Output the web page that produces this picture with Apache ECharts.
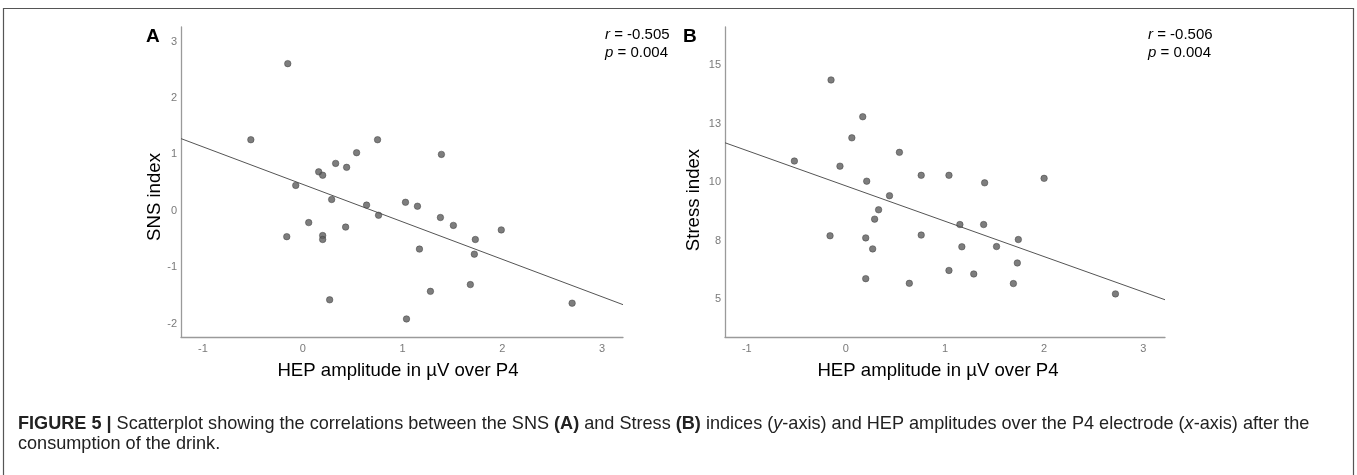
<!DOCTYPE html>
<html><head><meta charset="utf-8">
<script src="https://cdn.jsdelivr.net/npm/echarts@6/dist/echarts.min.js"></script>
<style>html,body{margin:0;padding:0;background:#fff}#c{width:1357px;height:475px}</style>
</head><body><div id="c"></div>
<script>
// Panel A: SNS index vs HEP amplitude
const snsX = [-0.15,-0.52,0.75,0.54,1.39,0.33,0.44,0.16,0.20,-0.07,0.29,0.64,0.76,1.03,1.15,1.38,1.51,1.99,1.73,1.72,0.06,0.43,-0.16,0.20,0.20,1.17,1.68,1.28,0.27,1.04,2.70];
const snsY = [2.61,1.26,1.26,1.03,1.00,0.84,0.77,0.69,0.63,0.45,0.20,0.10,-0.08,0.15,0.08,-0.12,-0.26,-0.34,-0.51,-0.77,-0.21,-0.29,-0.46,-0.44,-0.51,-0.68,-1.31,-1.43,-1.58,-1.92,-1.64];
// Panel B: Stress index vs HEP amplitude
const stressX = [-0.15,0.17,0.06,0.54,-0.52,-0.06,0.76,1.04,2.00,1.40,0.21,0.44,0.33,0.29,1.15,1.39,-0.16,0.20,0.76,0.27,1.17,1.52,1.74,1.73,1.04,1.29,0.20,0.64,1.69,2.72];
const stressY = [14.36,12.79,11.89,11.27,10.90,10.68,10.29,10.29,10.16,9.97,10.04,9.42,8.82,8.42,8.19,8.19,7.71,7.62,7.74,7.15,7.24,7.25,7.55,6.55,6.23,6.08,5.88,5.68,5.67,5.23];
// Fit lines (endpoints)
const snsFit = [[-1.22,1.28],[3.21,-1.666]];
const stressFit = [[-1.22,11.68],[3.22,4.98]];
// Tick values / labels
const xTicks = [-1,0,1,2,3];
const snsTicks = [-2,-1,0,1,2,3];
const stressTicks = [5,7.5,10,12.5,15];
const stressTickLabels = ['5','8','10','13','15'];
const statsA = ['r = -0.505','p = 0.004'];
const statsB = ['r = -0.506','p = 0.004'];

const zip = (a,b) => a.map((v,i)=>[v,b[i]]);
const FONT = '"Liberation Sans", Arial, sans-serif';
const axisCol = '#9a9a9a';
const labelStyle = {color:'#7a7a7a', fontSize:11, fontFamily:FONT};

function xAxis(gi, min, max){
  return {type:'value', gridIndex:gi, min:min, max:max,
    axisLine:{show:true, onZero:false, lineStyle:{color:axisCol, width:1.3}},
    axisTick:{show:false}, splitLine:{show:false},
    axisLabel:Object.assign({customValues:xTicks, margin:6}, labelStyle)};
}
function yAxis(gi, min, max, ticks, fmt){
  return {type:'value', gridIndex:gi, min:min, max:max,
    axisLine:{show:true, onZero:false, lineStyle:{color:axisCol, width:1.3}},
    axisTick:{show:false}, splitLine:{show:false},
    axisLabel:Object.assign({customValues:ticks, margin:4, formatter:fmt}, labelStyle)};
}
const pointStyle = {color:'#5c5c5c', borderColor:'#3a3a3a', borderWidth:0.6};
const capFont = 18.1;

const chart = echarts.init(document.getElementById('c'), null, {renderer:'canvas'});
chart.setOption({
  backgroundColor:'#fff',
  animation:false,
  grid:[
    {left:181, top:27, width:442, height:310},
    {left:725, top:27, width:440, height:310}
  ],
  xAxis:[xAxis(0,-1.22,3.21), xAxis(1,-1.22,3.22)],
  yAxis:[
    yAxis(0,-2.24,3.26,snsTicks, v=>String(v)),
    yAxis(1,3.39,16.62,stressTicks, v=>stressTickLabels[stressTicks.indexOf(v)] ?? String(Math.round(v)))
  ],
  series:[
    {type:'scatter', xAxisIndex:0, yAxisIndex:0, data:zip(snsX,snsY), symbolSize:6.5, itemStyle:pointStyle, z:3},
    {type:'line', xAxisIndex:0, yAxisIndex:0, data:snsFit, symbol:'none', lineStyle:{color:'#555', width:1}, z:2, silent:true},
    {type:'scatter', xAxisIndex:1, yAxisIndex:1, data:zip(stressX,stressY), symbolSize:6.5, itemStyle:pointStyle, z:3},
    {type:'line', xAxisIndex:1, yAxisIndex:1, data:stressFit, symbol:'none', lineStyle:{color:'#555', width:1}, z:2, silent:true}
  ],
  graphic:[
    {type:'polyline', shape:{points:[[3.5,475],[3.5,8.5],[1353.5,8.5],[1353.5,475]]}, style:{stroke:'#555', lineWidth:1.2, fill:null}},
    {type:'text', x:146, y:36.5, style:{text:'A', font:'bold 19px '+FONT, fill:'#000', verticalAlign:'middle'}},
    {type:'text', x:683, y:36.5, style:{text:'B', font:'bold 19px '+FONT, fill:'#000', verticalAlign:'middle'}},
    {type:'text', x:605, y:35, style:{text:'{i|r} = ' + statsA[0].slice(4), rich:{i:{font:'italic 15px '+FONT}}, font:'15px '+FONT, fill:'#000', verticalAlign:'middle'}},
    {type:'text', x:605, y:53, style:{text:'{i|p} = ' + statsA[1].slice(4), rich:{i:{font:'italic 15px '+FONT}}, font:'15px '+FONT, fill:'#000', verticalAlign:'middle'}},
    {type:'text', x:1148, y:35, style:{text:'{i|r} = ' + statsB[0].slice(4), rich:{i:{font:'italic 15px '+FONT}}, font:'15px '+FONT, fill:'#000', verticalAlign:'middle'}},
    {type:'text', x:1148, y:53, style:{text:'{i|p} = ' + statsB[1].slice(4), rich:{i:{font:'italic 15px '+FONT}}, font:'15px '+FONT, fill:'#000', verticalAlign:'middle'}},
    {type:'text', x:155, y:197, rotation:Math.PI/2, style:{text:'SNS index', font:'18.6px '+FONT, fill:'#000', align:'center', verticalAlign:'middle'}},
    {type:'text', x:694, y:200, rotation:Math.PI/2, style:{text:'Stress index', font:'18.6px '+FONT, fill:'#000', align:'center', verticalAlign:'middle'}},
    {type:'text', x:398, y:370.5, style:{text:'HEP amplitude in \u00b5V over P4', font:'18.6px '+FONT, fill:'#000', align:'center', verticalAlign:'middle'}},
    {type:'text', x:938, y:370.5, style:{text:'HEP amplitude in \u00b5V over P4', font:'18.6px '+FONT, fill:'#000', align:'center', verticalAlign:'middle'}},
    {type:'text', x:18, y:423.5, style:{text:'{b|FIGURE 5 |} Scatterplot showing the correlations between the SNS {b|(A)} and Stress {b|(B)} indices ({i|y}-axis) and HEP amplitudes over the P4 electrode ({i|x}-axis) after the',
      rich:{b:{font:'bold '+capFont+'px '+FONT, fill:'#222'}, i:{font:'italic '+capFont+'px '+FONT, fill:'#222'}}, font:capFont+'px '+FONT, fill:'#222', verticalAlign:'middle'}},
    {type:'text', x:18, y:443.5, style:{text:'consumption of the drink.', font:capFont+'px '+FONT, fill:'#222', verticalAlign:'middle'}}
  ]
});
</script></body></html>
